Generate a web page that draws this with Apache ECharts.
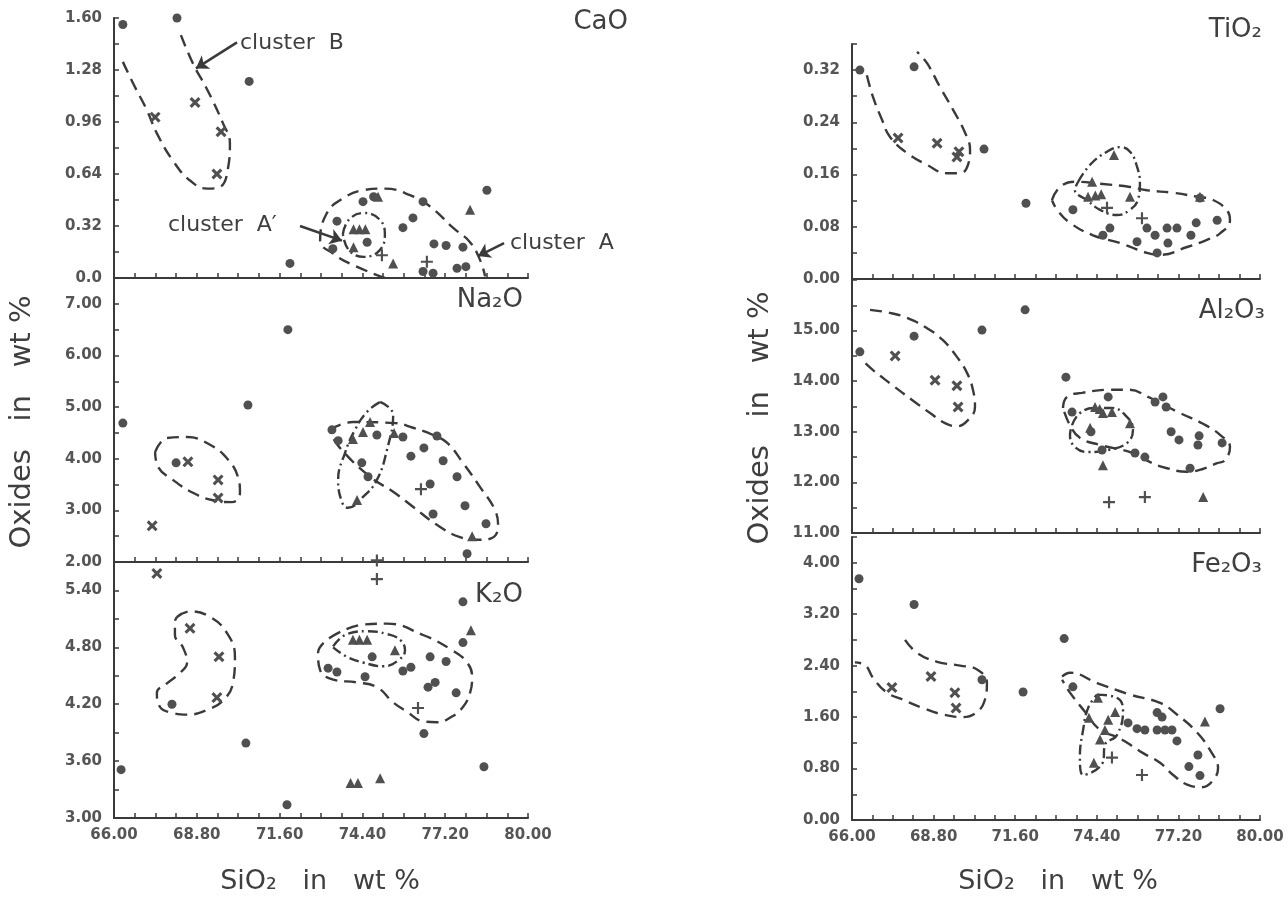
<!DOCTYPE html>
<html><head><meta charset="utf-8">
<script src="https://cdn.jsdelivr.net/npm/echarts@6/dist/echarts.min.js"></script>
<style>html,body{margin:0;padding:0;background:#fff}#c{width:1288px;height:902px}</style>
</head><body><div id="c"></div>
<script>
// ---------- axis ticks / labels ----------
const xLabelValues = [66.00, 68.80, 71.60, 74.40, 77.20, 80.00];
const caoYLabels = [0, 0.32, 0.64, 0.96, 1.28, 1.60];
const naYLabels  = [2, 3, 4, 5, 6, 7];
const kYLabels   = [3.0, 3.6, 4.2, 4.8, 5.4];
const tiYLabels  = [0, 0.08, 0.16, 0.24, 0.32];
const alYLabels  = [11, 12, 13, 14, 15];
const feYLabels  = [0, 0.8, 1.6, 2.4, 3.2, 4.0];

// ---------- CaO ----------
const caoDots = [[66.30,1.56],[68.13,1.60],[70.57,1.21],[71.95,0.09],[74.42,0.47],[74.78,0.50],[73.54,0.35],[74.56,0.22],[73.40,0.18],[76.45,0.47],[76.11,0.37],[75.77,0.31],[76.82,0.21],[77.23,0.20],[77.80,0.19],[78.61,0.54],[76.45,0.04],[76.79,0.03],[77.60,0.06],[77.90,0.07]];
const caoTriangles = [[74.93,0.50],[74.10,0.30],[74.30,0.30],[74.50,0.30],[74.10,0.19],[75.44,0.09],[78.04,0.42]];
const caoCrosses = [[68.74,1.08],[67.39,0.99],[69.62,0.90],[69.48,0.64]];
const caoPluses = [[75.06,0.14],[76.58,0.10]];
const caoClusterB = [[66.30,1.33],[66.64,1.20],[67.12,1.03],[67.45,0.89],[68.00,0.72],[68.57,0.60],[69.15,0.55],[69.58,0.56],[69.86,0.68],[69.92,0.83],[69.69,0.95],[69.15,1.16],[68.67,1.32],[68.23,1.51]];
const caoClusterA = [[75.16,0.00],[74.08,0.08],[73.41,0.15],[72.97,0.23],[73.20,0.40],[73.74,0.49],[74.42,0.54],[75.16,0.55],[76.01,0.51],[76.69,0.44],[77.46,0.31],[78.04,0.22],[78.38,0.11],[78.55,0.01]];
const caoClusterA1 = [[73.74,0.27],[73.95,0.36],[74.45,0.40],[74.98,0.36],[75.16,0.27],[74.98,0.17],[74.45,0.13],[73.95,0.17],[73.74,0.27]];
const caoArrowB = [[70.16,1.45],[68.77,1.29]];
const caoArrowA1 = [[72.29,0.32],[73.71,0.23]];
const caoArrowA = [[79.19,0.215],[78.31,0.135]];

// ---------- Na2O ----------
const naDots = [[71.88,6.50],[70.53,5.04],[66.30,4.69],[68.10,3.92],[73.37,4.56],[73.58,4.35],[74.89,4.46],[74.38,3.92],[74.59,3.65],[75.77,4.42],[76.92,4.44],[76.48,4.21],[76.04,4.05],[77.13,3.96],[77.60,3.65],[76.69,3.51],[77.87,3.09],[76.79,2.93],[78.58,2.74],[77.94,2.16]];
const naTriangles = [[74.08,4.38],[74.42,4.52],[74.66,4.71],[75.47,4.50],[74.22,3.20],[78.11,2.50]];
const naCrosses = [[68.50,3.94],[69.52,3.59],[69.52,3.24],[67.29,2.70]];
const naPluses = [[76.38,3.41],[74.89,2.03]];
const naClusterB = [[67.39,4.13],[67.79,4.40],[68.47,4.42],[69.25,4.27],[69.86,3.98],[70.19,3.65],[70.26,3.34],[69.99,3.16],[69.31,3.20],[68.67,3.34],[67.99,3.59],[67.49,3.84],[67.39,4.13]];
const naClusterA = [[73.30,4.56],[74.08,4.71],[75.50,4.69],[76.11,4.60],[76.79,4.46],[77.26,4.31],[77.80,3.92],[78.38,3.45],[78.88,3.01],[78.99,2.68],[78.72,2.45],[78.28,2.43],[77.70,2.48],[76.92,2.72],[76.11,3.07],[75.44,3.36],[74.66,3.65],[73.64,4.21],[73.30,4.52]];
const naClusterA1 = [[75.00,5.10],[75.44,4.85],[75.23,4.17],[74.89,3.59],[74.42,3.26],[73.91,3.05],[73.71,3.16],[73.58,3.59],[73.81,4.11],[74.15,4.56],[74.56,4.91],[75.00,5.10]];

// ---------- K2O ----------
const kDots = [[67.96,4.20],[70.46,3.79],[66.24,3.51],[71.85,3.14],[73.24,4.58],[73.54,4.54],[74.49,4.49],[74.73,4.70],[77.80,5.28],[77.80,4.85],[75.77,4.55],[76.04,4.59],[76.69,4.70],[77.23,4.65],[76.62,4.38],[76.86,4.43],[77.57,4.32],[76.48,3.89],[78.51,3.54]];
const kTriangles = [[74.08,4.88],[74.30,4.88],[74.56,4.88],[75.50,4.77],[78.07,4.98],[74.00,3.37],[74.25,3.37],[75.00,3.42]];
const kCrosses = [[67.45,5.58],[68.57,5.00],[69.55,4.70],[69.48,4.27]];
const kPluses = [[74.89,5.52],[76.28,4.16]];
const kClusterB = [[68.13,5.12],[68.57,5.18],[69.25,5.12],[69.82,4.95],[70.09,4.70],[70.02,4.42],[69.69,4.24],[69.15,4.14],[68.47,4.09],[67.96,4.11],[67.56,4.17],[67.45,4.32],[67.79,4.42],[68.23,4.53],[68.47,4.64],[68.33,4.80],[68.06,4.93],[68.06,5.07],[68.13,5.12]];
const kClusterA = [[73.30,4.90],[74.42,5.04],[75.23,5.05],[76.45,4.93],[77.43,4.77],[77.94,4.64],[78.11,4.49],[78.04,4.32],[77.80,4.17],[77.43,4.07],[76.92,4.01],[76.45,4.02],[75.91,4.12],[75.44,4.22],[74.89,4.38],[74.22,4.43],[73.41,4.46],[72.97,4.56],[72.90,4.74],[73.30,4.90]];
const kClusterA1 = [[73.41,4.81],[73.88,4.94],[74.56,4.97],[75.23,4.94],[75.67,4.88],[75.84,4.77],[75.60,4.66],[75.10,4.60],[74.42,4.64],[73.88,4.70],[73.41,4.80]];

// ---------- TiO2 ----------
const tiDots = [[66.27,0.32],[68.13,0.325],[70.53,0.199],[71.97,0.116],[73.58,0.106],[74.85,0.078],[74.61,0.067],[75.78,0.057],[76.47,0.040],[76.12,0.078],[76.40,0.067],[76.81,0.078],[76.84,0.055],[77.15,0.078],[77.63,0.067],[77.81,0.086],[78.53,0.090],[77.94,0.124]];
const tiTriangles = [[74.99,0.19],[74.24,0.149],[74.10,0.126],[74.35,0.128],[74.55,0.130],[75.54,0.126],[77.94,0.126]];
const tiCrosses = [[67.58,0.216],[68.92,0.208],[69.67,0.195],[69.60,0.187]];
const tiPluses = [[74.75,0.109],[75.95,0.093]];
const tiClusterB = [[66.51,0.312],[66.72,0.279],[67.03,0.244],[67.30,0.218],[67.89,0.193],[68.57,0.175],[69.26,0.162],[69.71,0.162],[69.98,0.175],[70.05,0.198],[69.88,0.224],[69.47,0.259],[69.02,0.294],[68.57,0.331],[68.23,0.348]];
const tiClusterA = [[72.86,0.121],[73.14,0.141],[73.65,0.149],[74.51,0.146],[75.54,0.141],[76.12,0.136],[77.02,0.132],[77.84,0.126],[78.39,0.121],[78.90,0.103],[78.97,0.090],[78.63,0.070],[78.18,0.060],[77.50,0.049],[76.57,0.037],[76.12,0.040],[75.20,0.055],[74.27,0.067],[73.48,0.086],[73.04,0.106],[72.86,0.121]];
const tiClusterA1 = [[73.76,0.149],[74.17,0.175],[74.75,0.195],[75.20,0.202],[75.54,0.195],[75.78,0.172],[75.88,0.147],[75.81,0.121],[75.54,0.106],[75.09,0.098],[74.51,0.106],[74.06,0.121],[73.65,0.136],[73.76,0.149]];

// ---------- Al2O3 ----------
const alDots = [[66.27,14.58],[68.13,14.89],[70.46,15.01],[71.94,15.41],[73.34,14.08],[74.79,13.69],[73.55,13.39],[74.20,13.00],[74.58,12.64],[75.71,12.58],[76.05,12.50],[76.40,13.59],[76.67,13.69],[76.78,13.49],[76.95,13.00],[77.22,12.84],[77.91,12.92],[77.87,12.74],[78.70,12.78],[77.60,12.28]];
const alTriangles = [[74.34,13.49],[74.50,13.45],[74.61,13.37],[74.92,13.39],[75.54,13.17],[74.17,13.08],[74.61,12.34],[78.05,11.71]];
const alCrosses = [[67.48,14.50],[68.85,14.02],[69.60,13.91],[69.64,13.49]];
const alPluses = [[74.82,11.61],[76.05,11.71]];
const alClusterB = [[66.62,15.41],[67.30,15.35],[67.89,15.25],[68.57,15.05],[69.12,14.81],[69.60,14.48],[69.95,14.16],[70.15,13.83],[70.22,13.49],[69.98,13.23],[69.60,13.11],[69.19,13.17],[68.68,13.37],[68.06,13.63],[67.30,13.96],[66.72,14.22],[66.34,14.42]];
const alClusterA = [[73.24,13.47],[73.38,13.69],[73.89,13.77],[74.85,13.83],[75.54,13.83],[76.16,13.69],[76.57,13.57],[77.26,13.37],[78.01,13.17],[78.63,12.94],[78.97,12.70],[78.80,12.44],[78.53,12.38],[78.01,12.26],[77.50,12.21],[76.81,12.28],[76.23,12.40],[75.64,12.58],[74.51,12.74],[73.82,12.88],[73.48,13.13],[73.24,13.47]];
const alClusterA1 = [[73.55,13.13],[73.82,13.37],[74.34,13.47],[74.92,13.47],[75.44,13.29],[75.64,13.04],[75.44,12.78],[74.79,12.64],[74.10,12.60],[73.65,12.70],[73.48,12.94],[73.55,13.13]];

// ---------- Fe2O3 ----------
const feDots = [[66.24,3.75],[68.13,3.35],[70.46,2.18],[71.87,1.99],[73.28,2.82],[73.58,2.07],[75.47,1.51],[75.78,1.42],[76.05,1.40],[76.47,1.40],[76.74,1.40],[76.98,1.40],[76.47,1.67],[76.64,1.60],[77.15,1.23],[77.87,1.01],[77.56,0.83],[77.94,0.69],[78.63,1.73]];
const feTriangles = [[74.44,1.90],[74.13,1.59],[75.03,1.68],[74.79,1.56],[74.68,1.40],[74.51,1.25],[74.30,0.89],[78.11,1.53]];
const feCrosses = [[67.37,2.06],[68.71,2.23],[69.53,1.98],[69.57,1.74]];
const fePluses = [[74.92,0.97],[75.95,0.70]];
const feClusterB = [[67.82,2.80],[68.23,2.60],[68.92,2.46],[69.71,2.40],[70.29,2.34],[70.63,2.13],[70.56,1.87],[70.29,1.68],[69.81,1.60],[69.12,1.64],[68.44,1.74],[67.75,1.87],[67.20,1.98],[66.72,2.21],[66.45,2.41],[66.10,2.45]];
const feClusterA = [[73.21,2.23],[73.48,2.29],[74.41,2.13],[75.54,1.95],[76.57,1.82],[77.15,1.64],[77.84,1.36],[78.35,1.04],[78.56,0.81],[78.39,0.62],[78.01,0.51],[77.50,0.55],[77.02,0.70],[76.57,0.89],[75.99,1.04],[75.44,1.20],[75.09,1.29],[74.51,1.40],[74.00,1.68],[73.48,1.98],[73.21,2.18]];
const feClusterA1 = [[74.41,1.95],[75.09,1.90],[75.30,1.71],[75.09,1.32],[74.68,1.17],[74.61,0.90],[73.93,0.70],[73.82,0.98],[73.93,1.40],[74.10,1.74],[74.41,1.95]];

// ---------- styling ----------
const FONT = '"DejaVu Sans", Verdana, sans-serif';
const INK = '#3a3a3a';
const MARK = '#505050';
const LABEL = '#555';
const CROSS = 'path://M2,0 L5,3 L8,0 L10,2 L7,5 L10,8 L8,10 L5,7 L2,10 L0,8 L3,5 L0,2 Z';
const PLUS = 'path://M4.1,0 L5.9,0 L5.9,4.1 L10,4.1 L10,5.9 L5.9,5.9 L5.9,10 L4.1,10 L4.1,5.9 L0,5.9 L0,4.1 L4.1,4.1 Z';
const DASH = [12, 7];
const DASHDOT = [10, 4, 2, 4];

function steps(a, b, s) { const r = []; for (let v = a; v <= b + 1e-9; v += s) r.push(+v.toFixed(4)); return r; }
const xTickValues = steps(66, 80, 0.7);

const fmt2 = v => v.toFixed(2);
const panels = [
  {left:114, top:18,  width:414, height:260, yMin:0,  yMax:1.6, yLabels:caoYLabels, yTicks:steps(0,1.6,0.16), fmt:v=>v===0?'0.0':v.toFixed(2), xl:false,
   dots:caoDots, tri:caoTriangles, crs:caoCrosses, pls:caoPluses, outlines:[[caoClusterB,DASH],[caoClusterA,DASH],[caoClusterA1,DASHDOT]]},
  {left:114, top:278, width:414, height:284, yMin:2,  yMax:7.5, yLabels:naYLabels, yTicks:steps(2,7.5,0.5), fmt:fmt2, xl:false,
   dots:naDots, tri:naTriangles, crs:naCrosses, pls:naPluses, outlines:[[naClusterB,DASH],[naClusterA,DASH],[naClusterA1,DASHDOT]]},
  {left:114, top:562, width:414, height:256, yMin:3,  yMax:5.7, yLabels:kYLabels, yTicks:steps(3,5.7,0.3), fmt:fmt2, xl:true,
   dots:kDots, tri:kTriangles, crs:kCrosses, pls:kPluses, outlines:[[kClusterB,DASH],[kClusterA,DASH],[kClusterA1,DASHDOT]]},
  {left:852, top:44,  width:408, height:235, yMin:0,  yMax:0.36, yLabels:tiYLabels, yTicks:steps(0,0.36,0.04), fmt:fmt2, xl:false,
   dots:tiDots, tri:tiTriangles, crs:tiCrosses, pls:tiPluses, outlines:[[tiClusterB,DASH],[tiClusterA,DASH],[tiClusterA1,DASHDOT]]},
  {left:852, top:280, width:408, height:253, yMin:11, yMax:16, yLabels:alYLabels, yTicks:steps(11,16,0.5), fmt:fmt2, xl:false,
   dots:alDots, tri:alTriangles, crs:alCrosses, pls:alPluses, outlines:[[alClusterB,DASH],[alClusterA,DASH],[alClusterA1,DASHDOT]]},
  {left:852, top:537, width:408, height:283, yMin:0,  yMax:4.4, yLabels:feYLabels, yTicks:steps(0,4.4,0.4), fmt:fmt2, xl:true,
   dots:feDots, tri:feTriangles, crs:feCrosses, pls:fePluses, outlines:[[feClusterB,DASH],[feClusterA,DASH],[feClusterA1,DASHDOT]]}
];

const grid = [], xAxis = [], yAxis = [], series = [];
const labelStyle = {color: LABEL, fontFamily: FONT, fontSize: 15, fontWeight: 'bold'};
panels.forEach((p, i) => {
  grid.push({left: p.left, top: p.top, width: p.width, height: p.height});
  xAxis.push({type:'value', gridIndex:i, min:66, max:80,
    axisLine:{show:true, onZero:false, lineStyle:{color:INK, width:2}},
    axisTick:{show:true, inside:true, length:5, customValues:xTickValues, lineStyle:{color:INK, width:1.5}},
    axisLabel:Object.assign({show:p.xl, customValues:xLabelValues, formatter:fmt2, margin:10}, labelStyle),
    splitLine:{show:false}});
  yAxis.push({type:'value', gridIndex:i, min:p.yMin, max:p.yMax,
    axisLine:{show:true, onZero:false, lineStyle:{color:INK, width:2}},
    axisTick:{show:true, inside:true, length:5, customValues:p.yTicks, lineStyle:{color:INK, width:1.5}},
    axisLabel:Object.assign({customValues:p.yLabels, formatter:p.fmt, margin:12}, labelStyle),
    splitLine:{show:false}});
  p.outlines.forEach(([pts, dash]) => series.push({type:'line', xAxisIndex:i, yAxisIndex:i, data:pts, smooth:0.45,
    symbol:'none', silent:true, z:2, lineStyle:{color:INK, width:2.4, type:dash}}));
  const sc = (data, symbol, size) => ({type:'scatter', xAxisIndex:i, yAxisIndex:i, data, symbol, symbolSize:size,
    silent:true, z:3, itemStyle:{color:MARK, opacity:1}});
  series.push(sc(p.dots, 'circle', 9));
  series.push(sc(p.tri, 'triangle', 10));
  series.push(sc(p.crs, CROSS, 11));
  series.push(sc(p.pls, PLUS, 12));
});

// arrows for the cluster annotations (CaO panel)
series.push({type:'line', xAxisIndex:0, yAxisIndex:0, data:[], silent:true,
  markLine:{silent:true, symbol:['none','arrow'], symbolSize:12, label:{show:false},
    lineStyle:{color:INK, width:2.5, type:'solid'},
    data:[caoArrowB, caoArrowA1, caoArrowA].map(a => [{coord:a[0]}, {coord:a[1]}])}});

const T = (text, x, y, size, align, rot) => ({type:'text', x, y, rotation: rot || 0,
  style:{text, font:`${size}px ${FONT}`, fill:'#3f3f3f', textAlign:align || 'left', textVerticalAlign:'middle'}});

const graphic = [
  T('CaO', 628, 22, 26, 'right'),
  T('Na₂O', 523, 300, 26, 'right'),
  T('K₂O', 523, 595, 26, 'right'),
  T('TiO₂', 1262, 30, 26, 'right'),
  T('Al₂O₃', 1265, 311, 26, 'right'),
  T('Fe₂O₃', 1262, 565, 26, 'right'),
  T('cluster  B', 240, 43, 22, 'left'),
  T('cluster  A′', 168, 225, 22, 'left'),
  T('cluster  A', 510, 243, 22, 'left'),
  T('SiO₂   in   wt %', 320, 882, 27, 'center'),
  T('SiO₂   in   wt %', 1058, 882, 27, 'center'),
  T('Oxides   in   wt %', 22, 422, 29, 'center', Math.PI / 2),
  T('Oxides   in   wt %', 760, 418, 29, 'center', Math.PI / 2)
];

const chart = echarts.init(document.getElementById('c'));
chart.setOption({animation:false, backgroundColor:'#fff', grid, xAxis, yAxis, series, graphic});
</script>
</body></html>
